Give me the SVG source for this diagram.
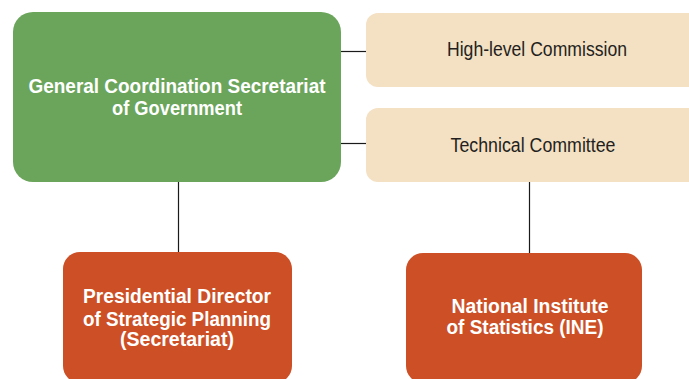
<svg xmlns="http://www.w3.org/2000/svg" width="689" height="379" viewBox="0 0 689 379">
<style>
.bold{font-family:"Liberation Sans",Arial,sans-serif;font-weight:bold;fill:#ffffff;text-anchor:middle}
.reg{font-family:"Liberation Sans",Arial,sans-serif;fill:#231f20;text-anchor:middle}
.green{fill:#6aa55b}
.beige{fill:#f4e0c3}
.orange{fill:#cd4f25}
.conn{stroke:#1a1a1a;stroke-width:1.2;fill:none}
</style>
<rect width="689" height="379" fill="#ffffff"/>
<g id="connectors">
<line class="conn" x1="341" y1="51.5" x2="367" y2="51.5"/>
<line class="conn" x1="341" y1="143.5" x2="367" y2="143.5"/>
<line class="conn" x1="178.5" y1="181" x2="178.5" y2="253"/>
<line class="conn" x1="529.5" y1="181" x2="529.5" y2="256"/>
</g>
<g id="gcsg">
<rect class="green" x="13" y="12" width="328" height="170" rx="20"/>
<text class="bold" x="177" y="93" font-size="20.5" textLength="297" lengthAdjust="spacingAndGlyphs">General Coordination Secretariat</text>
<text class="bold" x="177" y="115" font-size="20.5" textLength="130" lengthAdjust="spacingAndGlyphs">of Government</text>
</g>
<g id="highlevel">
<rect class="beige" x="366" y="13" width="340" height="74" rx="12"/>
<text class="reg" x="537" y="56" font-size="20" textLength="180" lengthAdjust="spacingAndGlyphs">High-level Commission</text>
</g>
<g id="technical">
<rect class="beige" x="366" y="108" width="340" height="74" rx="12"/>
<text class="reg" x="533" y="152" font-size="20" textLength="165" lengthAdjust="spacingAndGlyphs">Technical Committee</text>
</g>
<g id="presidential">
<rect class="orange" x="63" y="252" width="229" height="131" rx="17"/>
<text class="bold" x="177" y="303" font-size="19.5" textLength="188" lengthAdjust="spacingAndGlyphs">Presidential Director</text>
<text class="bold" x="177" y="326" font-size="19.5" textLength="188" lengthAdjust="spacingAndGlyphs">of Strategic Planning</text>
<text class="bold" x="177" y="346" font-size="19.5" textLength="114" lengthAdjust="spacingAndGlyphs">(Secretariat)</text>
</g>
<g id="ine">
<rect class="orange" x="406" y="253" width="236" height="130" rx="17"/>
<text class="bold" x="530" y="313" font-size="19.5" textLength="157" lengthAdjust="spacingAndGlyphs">National Institute</text>
<text class="bold" x="525" y="334" font-size="19.5" textLength="157" lengthAdjust="spacingAndGlyphs">of Statistics (INE)</text>
</g>
</svg>
